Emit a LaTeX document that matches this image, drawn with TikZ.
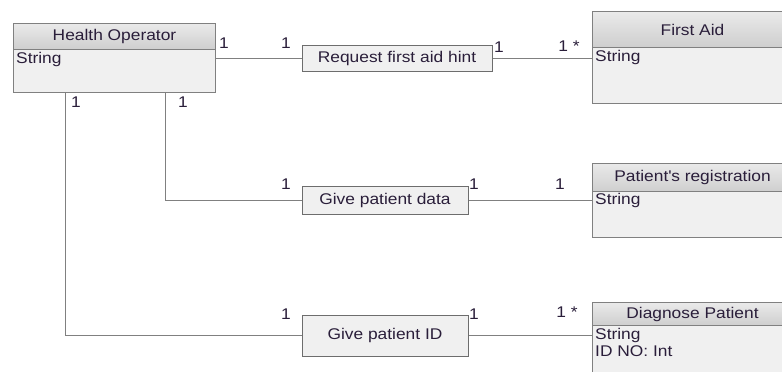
\documentclass[tikz,border=0pt]{standalone}
\usepackage{fontspec}
\setmainfont{Liberation Sans}[FakeStretch=1.12]
\usepackage{tikz}
\usetikzlibrary{calc}
\definecolor{umltext}{RGB}{42,30,58}
\definecolor{umlline}{RGB}{128,128,128}
\definecolor{umlbody}{RGB}{240,240,240}
\definecolor{umlheadtop}{RGB}{234,234,234}
\definecolor{umlheadbot}{RGB}{206,206,206}
\newcommand{\umlfont}{\fontsize{15.5}{17}\selectfont}
\newcommand{\lw}{1pt}

\tikzset{
  clsbody/.style={rectangle, draw=umlline, fill=umlbody, line width=\lw, inner sep=0pt, anchor=north west},
  clshead/.style={rectangle, draw=umlline, top color=umlheadtop, bottom color=umlheadbot, line width=\lw, inner sep=0pt, anchor=north west, text=umltext, font=\umlfont},
  attr/.style={anchor=north west, inner sep=0pt, text=umltext, font=\umlfont, align=left},
  assoc/.style={rectangle, draw=umlline!85!black, fill=umlbody, line width=\lw, inner sep=0pt, text=umltext, font=\umlfont},
  mult/.style={inner sep=0pt, text=umltext, font=\umlfont},
  link/.style={draw=umlline, line width=\lw}
}

\begin{document}
\begin{tikzpicture}[x=1pt, y=-1pt]
\clip (0,0) rectangle (782,372);
\fill[white] (0,0) rectangle (782,372);
% classes
\node[clsbody, minimum width=202pt, minimum height=69pt] (ho) at (13,23) {};
\node[clshead, minimum width=202pt, minimum height=26pt] (hoh) at (13,23) {Health Operator};
\node[attr] (hoa) at (16,52) {String};
\node[clsbody, minimum width=200pt, minimum height=92pt] (fa) at (592,11) {};
\node[clshead, minimum width=200pt, minimum height=36pt] (fah) at (592,11) {First Aid};
\node[attr] (faa) at (595,50) {String};
\node[clsbody, minimum width=200pt, minimum height=74pt] (pr) at (592,163) {};
\node[clshead, minimum width=200pt, minimum height=28pt] (prh) at (592,163) {Patient\textquotesingle s registration};
\node[attr] (pra) at (595,193) {String};
\node[clsbody, minimum width=200pt, minimum height=90pt] (dp) at (592,302) {};
\node[clshead, minimum width=200pt, minimum height=23pt] (dph) at (592,302) {Diagnose Patient};
\node[attr] (dpa) at (595,328) {String\\ID NO: Int};
% associations
\node[assoc, minimum width=190pt, minimum height=26pt] (req) at (397,58) {Request first aid hint};
\node[assoc, minimum width=166pt, minimum height=28pt] (gpd) at (385,200) {Give patient data};
\node[assoc, minimum width=166pt, minimum height=41pt] (gid) at (385,335.5) {Give patient ID};
% links
\draw[link] (ho.east |- req.west) -- (req.west);
\draw[link] (req.east) -- (fa.west |- req.east);
\draw[link] ($(ho.south west)!0.75!(ho.south east)$) |- (gpd.west);
\draw[link] (gpd.east) -- (pr.west |- gpd.east);
\draw[link] ($(ho.south west)!0.26!(ho.south east)$) |- (gid.west);
\draw[link] (gid.east) -- (dp.west |- gid.east);
% multiplicities
\node[mult] (m1) at (224,43) {1};
\node[mult] (m2) at (286,43) {1};
\node[mult] (m3) at (499,47) {1};
\node[mult] (m4) at (569,46) {1 *};
\node[mult] (m5) at (76,102) {1};
\node[mult] (m6) at (183,102) {1};
\node[mult] (m7) at (286,184) {1};
\node[mult] (m8) at (474,184) {1};
\node[mult] (m9) at (560,184) {1};
\node[mult] (m10) at (286,314) {1};
\node[mult] (m11) at (474,314) {1};
\node[mult] (m12) at (567,312) {1 *};
\end{tikzpicture}
\end{document}
